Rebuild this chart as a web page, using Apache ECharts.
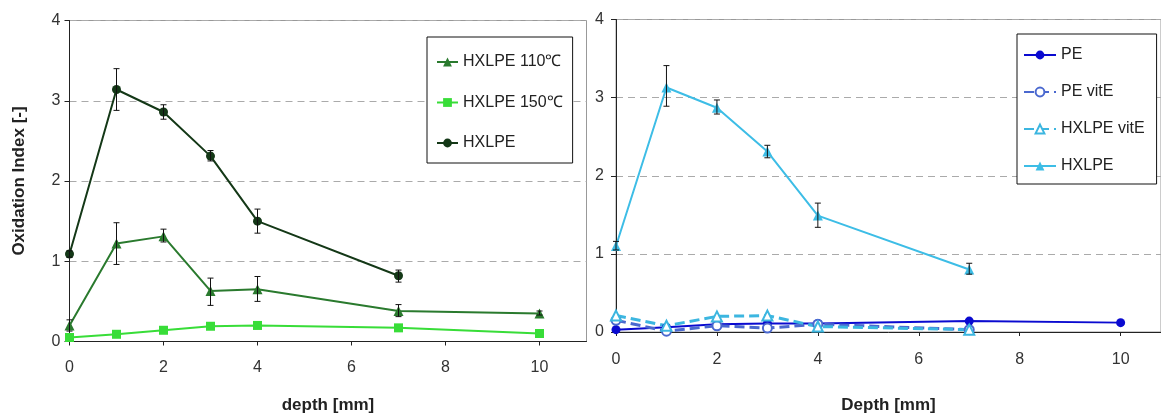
<!DOCTYPE html>
<html>
<head>
<meta charset="utf-8">
<script src="https://cdn.jsdelivr.net/npm/echarts@6/dist/echarts.min.js"></script>
<style>html,body{margin:0;padding:0;background:#fff}#c{width:1161px;height:414px}</style>
</head>
<body>
<div id="c"></div>
<script>
// ---- data ----
const xTicks = [0, 2, 4, 6, 8, 10];
const yTicks = [0, 1, 2, 3, 4];
const depthAll = [0, 1, 2, 3, 4, 7, 10];
const depthShort = [0, 1, 2, 3, 4, 7];

// left chart
const hxlpe110 = [0.20, 1.22, 1.31, 0.63, 0.65, 0.38, 0.35];
const hxlpe110Lo = [0.13, 0.96, 1.24, 0.45, 0.50, 0.31, 0.33];
const hxlpe110Hi = [0.27, 1.48, 1.40, 0.79, 0.81, 0.46, 0.38];
const hxlpe150 = [0.05, 0.09, 0.14, 0.19, 0.20, 0.17, 0.10];
const hxlpeL = [1.09, 3.14, 2.86, 2.31, 1.50, 0.82];
const hxlpeLLo = [1.05, 2.88, 2.77, 2.25, 1.35, 0.74];
const hxlpeLHi = [1.13, 3.40, 2.95, 2.38, 1.65, 0.89];

// right chart
const pe = [0.03, 0.06, 0.10, 0.11, 0.11, 0.14, 0.12];
const peVitE = [0.15, 0.01, 0.08, 0.05, 0.10, 0.03];
const hxlpeVitE = [0.21, 0.08, 0.20, 0.21, 0.07, 0.03];
const hxlpeR = [1.10, 3.13, 2.87, 2.31, 1.49, 0.80];
const hxlpeRLo = [1.05, 2.89, 2.79, 2.23, 1.34, 0.74];
const hxlpeRHi = [1.16, 3.41, 2.97, 2.39, 1.65, 0.88];

const FONT = 'Liberation Sans, Arial, sans-serif';
const pair = (xs, ys) => ys.map((v, i) => [xs[i], v]);
const errs = (xs, lo, hi) => lo.map((v, i) => [xs[i], v, hi[i]]);

function errRender(params, api) {
  const x = api.value(0);
  const a = api.coord([x, api.value(2)]);
  const b = api.coord([x, api.value(1)]);
  const cap = 3;
  const st = { stroke: '#111', lineWidth: 1 };
  return { type: 'group', children: [
    { type: 'line', shape: { x1: a[0], y1: a[1], x2: b[0], y2: b[1] }, style: st },
    { type: 'line', shape: { x1: a[0] - cap, y1: a[1], x2: a[0] + cap, y2: a[1] }, style: st },
    { type: 'line', shape: { x1: b[0] - cap, y1: b[1], x2: b[0] + cap, y2: b[1] }, style: st }
  ]};
}

function xAxis(idx, max, name, gap, labelMargin) {
  return {
    type: 'value', gridIndex: idx, min: 0, max: max, interval: 2,
    name: name, nameLocation: 'middle', nameGap: gap,
    nameTextStyle: { fontFamily: FONT, fontSize: 17, fontWeight: 'bold', color: '#222' },
    axisLine: { lineStyle: { color: '#222', width: 1 } },
    axisTick: { show: true, length: 4, customValues: xTicks, lineStyle: { color: '#222' } },
    axisLabel: { customValues: xTicks, fontFamily: FONT, fontSize: 16, color: '#333', margin: labelMargin },
    splitLine: { show: false }
  };
}
function yAxis(idx, name, labelMargin) {
  return {
    type: 'value', gridIndex: idx, min: 0, max: 4, interval: 1,
    name: name, nameLocation: 'middle', nameGap: 42,
    nameTextStyle: { fontFamily: FONT, fontSize: 17, fontWeight: 'bold', color: '#222' },
    axisLine: { show: true, lineStyle: { color: '#222', width: 1 } },
    axisTick: { show: true, length: 5, customValues: yTicks, lineStyle: { color: '#222' } },
    axisLabel: { customValues: yTicks, fontFamily: FONT, fontSize: 16, color: '#333', margin: labelMargin },
    splitLine: { show: true, lineStyle: { color: '#aaa', type: [7, 5], width: 1 } }
  };
}
function line(name, xi, data, color, symbol, size, dashed, width) {
  return {
    type: 'line', name: name, xAxisIndex: xi, yAxisIndex: xi, data: data,
    symbol: symbol, symbolSize: size, showSymbol: true,
    lineStyle: { color: color, width: width || 2, type: dashed ? [10, 5] : 'solid' },
    itemStyle: { color: color },
    emphasis: { disabled: true }, animation: false, z: 3
  };
}

const chart = echarts.init(document.getElementById('c'), null, { renderer: 'canvas' });
chart.setOption({
  animation: false,
  backgroundColor: '#fff',
  grid: [
    { left: 69.5, top: 20.5, width: 517, height: 321, outerBoundsMode: 'none', containLabel: false, show: true, borderColor: '#999', borderWidth: 1, backgroundColor: 'transparent' },
    { left: 616, top: 19.5, width: 545, height: 312.5, outerBoundsMode: 'none', containLabel: false, show: true, borderColor: '#999', borderWidth: 1, backgroundColor: 'transparent' }
  ],
  xAxis: [xAxis(0, 11, 'depth [mm]', 55, 18), xAxis(1, 10.8, 'Depth [mm]', 65, 20)],
  yAxis: [yAxis(0, 'Oxidation Index [-]', 9), yAxis(1, '', 12)],
  legend: [
    { orient: 'vertical', left: 427, top: 37, itemWidth: 21, itemHeight: 11, itemGap: 24.5,
      padding: [17, 10, 12, 9], borderColor: '#111', borderWidth: 1, backgroundColor: '#fff',
      textStyle: { fontFamily: FONT, fontSize: 16, color: '#222' },
      data: ['HXLPE 110℃', 'HXLPE 150℃', 'HXLPE'], selectedMode: false },
    { orient: 'vertical', left: 1017, top: 34, itemWidth: 32, itemHeight: 11, itemGap: 21,
      padding: [13, 12, 10, 6], borderColor: '#111', borderWidth: 1, backgroundColor: '#fff',
      textStyle: { fontFamily: FONT, fontSize: 16, color: '#222' },
      formatter: n => n.trim(),
      data: ['PE', 'PE vitE', 'HXLPE vitE', 'HXLPE '], selectedMode: false }
  ],
  series: [
    line('HXLPE', 0, pair(depthShort, hxlpeL), '#143817', 'circle', 9),
    line('HXLPE 110℃', 0, pair(depthAll, hxlpe110), '#2a7a2e', 'triangle', 10),
    line('HXLPE 150℃', 0, pair(depthAll, hxlpe150), '#38dd38', 'rect', 9),
    { type: 'custom', name: 'errL1', xAxisIndex: 0, yAxisIndex: 0, renderItem: errRender, data: errs(depthShort, hxlpeLLo, hxlpeLHi), z: 4, silent: true },
    { type: 'custom', name: 'errL2', xAxisIndex: 0, yAxisIndex: 0, renderItem: errRender, data: errs(depthAll, hxlpe110Lo, hxlpe110Hi), z: 4, silent: true },
    line('PE', 1, pair(depthAll, pe), '#0a0ad0', 'circle', 9),
    line('PE vitE', 1, pair(depthShort, peVitE), '#4a68cf', 'emptyCircle', 9, true, 3),
    line('HXLPE vitE', 1, pair(depthShort, hxlpeVitE), '#3cb6e0', 'emptyTriangle', 10, true, 3),
    line('HXLPE ', 1, pair(depthShort, hxlpeR), '#3dbde6', 'triangle', 10),
    { type: 'custom', name: 'errR', xAxisIndex: 1, yAxisIndex: 1, renderItem: errRender, data: errs(depthShort, hxlpeRLo, hxlpeRHi), z: 4, silent: true }
  ]
});
</script>
</body>
</html>
